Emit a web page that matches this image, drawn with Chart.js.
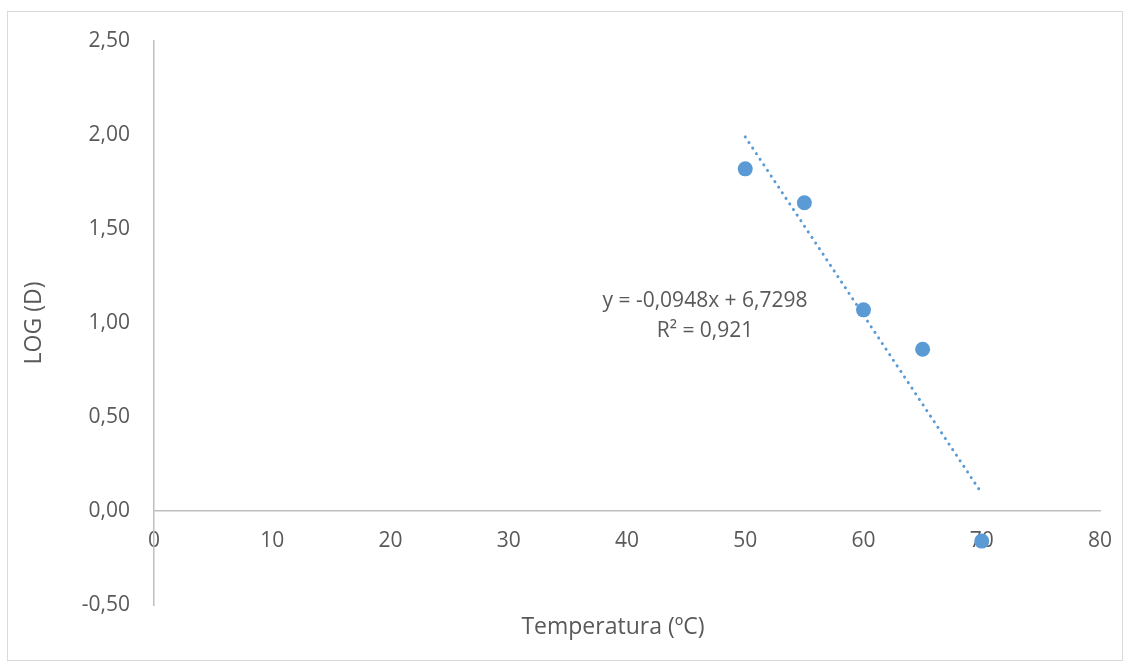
<!DOCTYPE html>
<html>
<head>
<meta charset="utf-8">
<script src="https://cdn.jsdelivr.net/npm/chart.js@4.4.1/dist/chart.umd.min.js"></script>
<style>
  html, body { margin: 0; padding: 0; background: #fff; }
  #wrap { width: 1133px; height: 666px; }
</style>
</head>
<body>
<div id="wrap"><canvas id="chart" width="1133" height="666"></canvas></div>
<script>
// datos
const temperaturas = [50, 55, 60, 65, 70];
const logD = [1.82, 1.64, 1.07, 0.86, -0.16];

// linea de tendencia (Excel)
const trendSlope = -0.0948;
const trendIntercept = 6.7298;
const trendR2 = 0.921;
const trendRange = [50, 70];

const xTicks = [0, 10, 20, 30, 40, 50, 60, 70, 80];
const yTicks = [-0.5, 0, 0.5, 1, 1.5, 2, 2.5];

const textColor = '#595959';
const axisColor = '#bfbfbf';
const fontName = "'Open Sans', 'Liberation Sans', sans-serif";

const fmt = (v, d) => v.toFixed(d).replace('.', ',');

const extras = {
    id: 'extras',
    beforeDraw(chart) {
        const c = chart.ctx;
        c.save();
        c.fillStyle = '#fff';
        c.fillRect(0, 0, chart.width, chart.height);
        c.strokeStyle = '#d9d9d9';
        c.lineWidth = 1;
        c.strokeRect(7.5, 11.5, 1115, 649);
        c.restore();
    },
    afterDraw(chart) {
        const c = chart.ctx;
        c.save();
        c.fillStyle = textColor;
        c.textAlign = 'center';
        c.textBaseline = 'middle';
        c.font = '23px ' + fontName;
        c.fillText('Temperatura (ºC)', 613, 627);
        c.font = '21px ' + fontName;
        const sign = trendIntercept >= 0 ? '+ ' : '- ';
        c.fillText('y = ' + fmt(trendSlope, 4) + 'x ' + sign + fmt(Math.abs(trendIntercept), 4), 705, 301);
        c.fillText('R² = ' + fmt(trendR2, 3), 705, 331);
        c.restore();
    }
};

new Chart(document.getElementById('chart'), {
    type: 'scatter',
    data: {
        datasets: [
            {
                label: 'LOG (D)',
                data: temperaturas.map((t, i) => ({ x: t, y: logD[i] })),
                backgroundColor: '#5b9bd5',
                borderColor: '#5b9bd5',
                borderWidth: 0,
                pointRadius: 7.5,
                order: 2
            },
            {
                type: 'line',
                label: 'Lineal',
                data: trendRange.map(x => ({ x: x, y: trendSlope * x + trendIntercept })),
                borderColor: '#5b9bd5',
                borderWidth: 3,
                borderDash: [0.1, 6.6],
                borderCapStyle: 'round',
                pointRadius: 0,
                fill: false,
                order: 1
            }
        ]
    },
    options: {
        responsive: false,
        animation: false,
        layout: { padding: { left: 0, top: 41, right: 33, bottom: 61 } },
        plugins: {
            legend: { display: false },
            tooltip: { enabled: false }
        },
        scales: {
            x: {
                type: 'linear',
                position: { y: 0 },
                z: 1,
                min: 0,
                max: 80,
                afterBuildTicks: s => { s.ticks = xTicks.map(v => ({ value: v })); },
                grid: { display: false, drawTicks: false },
                border: { color: axisColor, width: 1.5 },
                ticks: {
                    color: textColor,
                    font: { family: fontName, size: 21 },
                    padding: 17,
                    maxRotation: 0
                }
            },
            y: {
                type: 'linear',
                min: -0.5,
                max: 2.5,
                afterBuildTicks: s => { s.ticks = yTicks.map(v => ({ value: v })); },
                afterFit: s => { s.width = 154; },
                grid: { display: false, drawTicks: false },
                border: { color: axisColor, width: 1.5 },
                ticks: {
                    color: textColor,
                    font: { family: fontName, size: 21 },
                    padding: 24,
                    callback: v => fmt(v, 2)
                },
                title: {
                    display: true,
                    text: 'LOG (D)',
                    color: textColor,
                    font: { family: fontName, size: 23 },
                    padding: { top: 21, bottom: 0 }
                }
            }
        }
    },
    plugins: [extras]
});
</script>
</body>
</html>
